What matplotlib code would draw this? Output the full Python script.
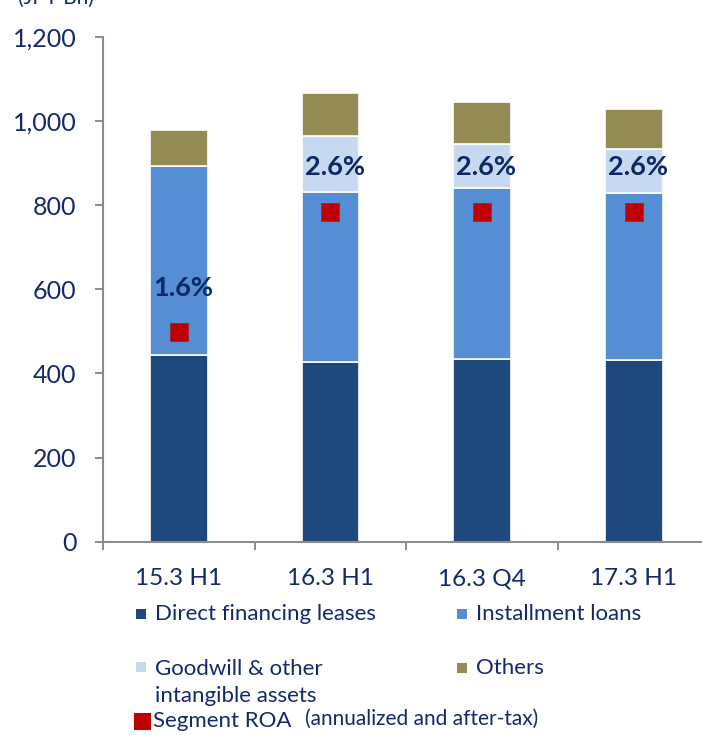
import matplotlib.pyplot as plt
from matplotlib.patches import Rectangle
import numpy as np

plt.rcParams['font.family'] = ['Lato', 'DejaVu Sans']

# Segment assets (JPY Bn) by period
periods = ['15.3 H1', '16.3 H1', '16.3 Q4', '17.3 H1']
direct_leases = np.array([444, 427, 434, 433])
installment_loans = np.array([449, 405, 408, 397])
goodwill = np.array([0, 132, 104, 103])
others = np.array([87, 102, 100, 96])

# Segment ROA (annualized and after-tax), %
roa = np.array([1.6, 2.6, 2.6, 2.6])
roa_labels = ['1.6%', '2.6%', '2.6%', '2.6%']

c_direct = '#1f497d'
c_install = '#558ed5'
c_goodwill = '#c6d9f1'
c_others = '#948a54'
c_roa = '#c00000'
navy = '#13296b'
grey = '#8c8c8c'

W, H = 702, 735
fig = plt.figure(figsize=(W / 100, H / 100), dpi=100)
ax = fig.add_axes([103 / W, 1 - 541.7 / H, (W - 103) / W, (541.7 - 37) / H])

x = np.arange(len(periods))
bw = 0.38
kw = dict(width=bw, edgecolor='white', linewidth=1.2, zorder=2)
ax.bar(x, direct_leases, color=c_direct, **kw)
ax.bar(x, installment_loans, bottom=direct_leases, color=c_install, **kw)
b2 = direct_leases + installment_loans
ax.bar(x, goodwill, bottom=b2, color=c_goodwill, **kw)
b3 = b2 + goodwill
ax.bar(x, others, bottom=b3, color=c_others, **kw)

ax.set_xlim(-0.5, 3.45)
ax.set_ylim(0, 1200)
ax.set_yticks(np.arange(0, 1201, 200))
ax.set_yticklabels([f'{v:,}' for v in range(0, 1201, 200)])
ax.tick_params(axis='y', length=6, width=1.4, color=grey, pad=13,
               labelsize=18, labelcolor=navy)

# category boundaries get the tick marks, names sit in between
ax.set_xticks(np.arange(-0.5, 3.0, 1.0))
ax.set_xticklabels([])
ax.set_xticks(x, minor=True)
ax.set_xticklabels(periods, minor=True)
ax.tick_params(axis='x', which='major', length=6, width=1.4, color=grey)
ax.tick_params(axis='x', which='minor', length=0, pad=19,
               labelsize=17.5, labelcolor=navy)

for s in ['top', 'right']:
    ax.spines[s].set_visible(False)
for s in ['left', 'bottom']:
    ax.spines[s].set_color(grey)
    ax.spines[s].set_linewidth(1.5)

# ROA markers on a hidden secondary scale
ax2 = ax.twinx()
ax2.set_ylim(-0.141, 4.054)
ax2.axis('off')
ax2.scatter(x, roa, marker='s', s=175, color=c_roa, edgecolor='#a02828',
            linewidth=0.6, zorder=4)
for xi, r, lab in zip(x, roa, roa_labels):
    ax2.annotate(lab, (xi, r), xytext=(3, 32), textcoords='offset points',
                 ha='center', va='center', fontsize=19.5, fontweight='bold',
                 color='#0c2866')

fig.text(18 / W, 1 + 2 / H, '(JPY Bn)', fontsize=15, color=navy,
         ha='left', va='center')


# legend, laid out by hand
def key(px, py, size, color, label, fs=16, tx=None):
    fig.add_artist(Rectangle(((px - size / 2) / W, 1 - (py + size / 2) / H),
                             size / W, size / H, transform=fig.transFigure,
                             color=color, lw=0))
    if label:
        fig.text((tx if tx else px + 14) / W, 1 - py / H, label, fontsize=fs,
                 color=navy, ha='left', va='center')


key(141, 614, 10, c_direct, 'Direct financing leases')
key(462, 614, 10, c_install, 'Installment loans')
key(141, 667, 10, c_goodwill, None)
fig.text(155 / W, 1 - 669 / H, 'Goodwill & other', fontsize=16, color=navy,
         ha='left', va='center')
fig.text(155 / W, 1 - 696 / H, 'intangible assets', fontsize=16, color=navy,
         ha='left', va='center')
key(462, 668, 10, c_others, 'Others')
key(142, 721, 17, c_roa, 'Segment ROA', tx=153)
fig.text(305 / W, 1 - 719 / H, '(annualized and after-tax)', fontsize=15,
         color=navy, ha='left', va='center')

fig.savefig('out.png', dpi=100)
